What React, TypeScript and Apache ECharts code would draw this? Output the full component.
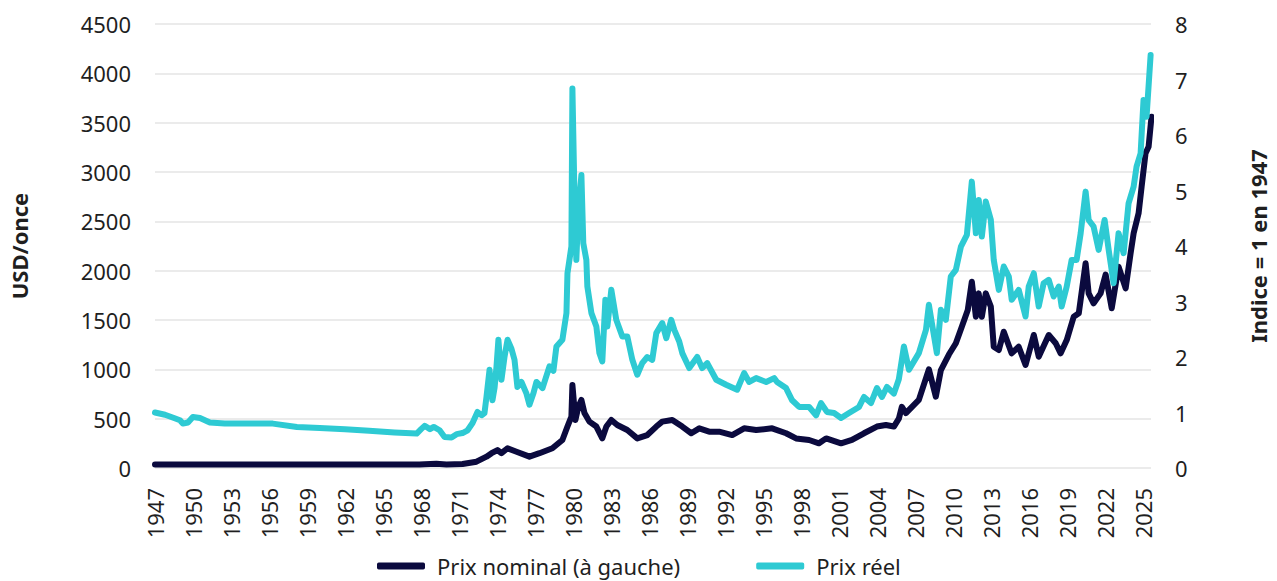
import React, { useEffect, useRef } from "react";
import * as echarts from "echarts";

// Nominal gold price (USD/once), left axis
const nominalYears = [
  1947.0, 1950.0, 1955.0, 1960.0, 1965.0, 1967.88, 1968.28, 1969.2, 1970.0, 1971.27,
  1972.37, 1973.16, 1973.56, 1974.03, 1974.34, 1974.82, 1975.53, 1976.55, 1977.34, 1978.36,
  1979.15, 1979.55, 1979.86, 1979.94, 1980.18, 1980.41, 1980.65, 1980.89, 1981.28, 1981.83,
  1982.3, 1982.62, 1983.01, 1983.48, 1984.27, 1985.06, 1985.85, 1986.56, 1987.03, 1987.82,
  1988.61, 1989.32, 1989.95, 1990.73, 1991.52, 1992.55, 1993.49, 1994.44, 1995.7, 1996.8,
  1997.59, 1998.62, 1999.4, 1999.96, 2001.14, 2002.0, 2002.95, 2003.97, 2004.68, 2005.31,
  2005.7, 2005.94, 2006.26, 2007.28, 2008.07, 2008.62, 2009.02, 2009.65, 2010.2, 2010.67,
  2011.14, 2011.46, 2011.78, 2012.0, 2012.25, 2012.56, 2012.96, 2013.19, 2013.59, 2013.98,
  2014.6, 2015.16, 2015.7, 2016.35, 2016.74, 2017.53, 2018.08, 2018.47, 2018.95, 2019.5,
  2019.9, 2020.44, 2020.68, 2021.07, 2021.62, 2022.02, 2022.5, 2023.04, 2023.6, 2023.99,
  2024.23, 2024.62, 2024.86, 2025.17, 2025.41, 2025.64,
];
const nominalValues = [
  35, 35, 35, 35, 35, 35, 39, 42, 35, 40,
  64, 115, 150, 182, 150, 200, 165, 115, 150, 200,
  284, 420, 520, 841, 487, 621, 690, 557, 470, 420,
  300, 420, 487, 436, 385, 300, 334, 420, 470, 487,
  420, 352, 402, 368, 368, 334, 402, 385, 402, 352,
  300, 284, 250, 300, 250, 284, 352, 420, 436, 420,
  500, 620, 557, 690, 1000, 723, 993, 1150, 1264, 1432,
  1601, 1888, 1533, 1770, 1533, 1770, 1635, 1229, 1196, 1381,
  1162, 1229, 1044, 1348, 1128, 1348, 1264, 1162, 1297, 1533,
  1568, 2075, 1770, 1669, 1770, 1960, 1619, 2040, 1821, 2176,
  2379, 2581, 2851, 3190, 3256, 3560,
];

// Real gold price (index = 1 in 1947), right axis
const realYears = [
  1947.0, 1947.79, 1948.5, 1948.97, 1949.2, 1949.6, 1949.99, 1950.55, 1951.33, 1952.5,
  1954.1, 1956.3, 1958.2, 1960.0, 1962.0, 1963.9, 1965.9, 1967.65, 1968.0, 1968.28,
  1968.7, 1969.0, 1969.46, 1969.85, 1970.4, 1970.8, 1971.27, 1971.67, 1972.06, 1972.45,
  1972.77, 1973.0, 1973.16, 1973.4, 1973.63, 1973.8, 1973.95, 1974.1, 1974.34, 1974.58,
  1974.82, 1975.13, 1975.37, 1975.6, 1975.92, 1976.3, 1976.55, 1976.87, 1977.1, 1977.58,
  1978.13, 1978.44, 1978.68, 1979.15, 1979.47, 1979.55, 1979.86, 1979.94, 1980.1, 1980.25,
  1980.41, 1980.65, 1980.8, 1981.04, 1981.12, 1981.44, 1981.83, 1982.07, 1982.3, 1982.54,
  1982.7, 1983.01, 1983.4, 1983.88, 1984.27, 1984.67, 1985.06, 1985.45, 1985.85, 1986.24,
  1986.56, 1987.03, 1987.35, 1987.74, 1987.98, 1988.37, 1988.61, 1989.16, 1989.79, 1990.18,
  1990.58, 1991.29, 1992.07, 1992.94, 1993.49, 1993.89, 1994.44, 1995.23, 1995.86, 1996.09,
  1996.8, 1997.28, 1997.83, 1998.62, 1999.17, 1999.56, 2000.03, 2000.59, 2001.14, 2001.77,
  2002.56, 2002.95, 2003.5, 2003.97, 2004.37, 2004.76, 2005.31, 2005.7, 2006.1, 2006.5,
  2007.28, 2007.84, 2008.07, 2008.31, 2008.7, 2009.02, 2009.41, 2009.8, 2010.2, 2010.6,
  2011.07, 2011.46, 2011.78, 2012.01, 2012.25, 2012.56, 2012.96, 2013.19, 2013.59, 2013.98,
  2014.38, 2014.61, 2015.16, 2015.7, 2015.95, 2016.35, 2016.74, 2017.13, 2017.53, 2017.92,
  2018.32, 2018.55, 2018.95, 2019.34, 2019.73, 2020.05, 2020.44, 2020.68, 2021.07, 2021.47,
  2021.94, 2022.26, 2022.65, 2023.04, 2023.44, 2023.83, 2024.23, 2024.46, 2024.78, 2025.01,
  2025.25, 2025.57,
];
const realValues = [
  1.0, 0.96, 0.9, 0.86, 0.8, 0.82, 0.92, 0.9, 0.82, 0.8,
  0.8, 0.8, 0.74, 0.72, 0.7, 0.67, 0.64, 0.62, 0.7, 0.76,
  0.7, 0.74, 0.68, 0.56, 0.55, 0.61, 0.63, 0.68, 0.81, 1.01,
  0.95, 0.99, 1.28, 1.77, 1.22, 1.45, 1.83, 2.31, 1.59, 2.0,
  2.31, 2.15, 1.95, 1.46, 1.55, 1.35, 1.14, 1.35, 1.55, 1.44,
  1.83, 1.75, 2.19, 2.31, 2.79, 3.51, 3.99, 6.84, 4.95, 3.75,
  4.65, 5.28, 4.05, 3.75, 3.27, 2.79, 2.55, 2.07, 1.92, 3.03,
  2.55, 3.21, 2.67, 2.37, 2.37, 1.95, 1.68, 1.89, 2.0, 1.95,
  2.43, 2.61, 2.34, 2.67, 2.49, 2.28, 2.07, 1.8, 2.0, 1.8,
  1.89, 1.59, 1.5, 1.41, 1.71, 1.55, 1.62, 1.55, 1.62, 1.55,
  1.44, 1.22, 1.1, 1.1, 0.95, 1.17, 1.01, 0.99, 0.9, 0.99,
  1.1, 1.28, 1.17, 1.44, 1.28, 1.46, 1.34, 1.6, 2.19, 1.77,
  2.07, 2.49, 2.94, 2.61, 2.07, 2.85, 2.67, 3.45, 3.57, 3.99,
  4.2, 5.16, 4.23, 4.83, 4.17, 4.8, 4.47, 3.75, 3.21, 3.63,
  3.45, 3.03, 3.21, 2.73, 3.27, 3.51, 2.91, 3.33, 3.39, 3.09,
  3.27, 2.91, 3.27, 3.75, 3.75, 4.23, 4.98, 4.47, 4.35, 3.93,
  4.47, 3.93, 3.33, 4.23, 3.87, 4.77, 5.07, 5.43, 5.67, 6.63,
  6.33, 7.44,
];

const legendNames = ["Prix nominal (à gauche)", "Prix réel"];
const leftAxisName = "USD/once";
const rightAxisName = "Indice = 1 en 1947";
const xStart = 1947;
const xEnd = 2025.6;
const xStep = 3;

const NAVY = "#0b0a3e";
const CYAN = "#2ecad3";
const FONT = "Noto Sans";

export default function App() {
  const ref = useRef<HTMLDivElement>(null);

  useEffect(() => {
    if (!ref.current) return;
    const chart = echarts.init(ref.current, undefined, { renderer: "svg" });
    const labelStyle = { fontFamily: FONT, fontSize: 22, color: "#1f1f1f" };
    chart.setOption({
      animation: false,
      backgroundColor: "#ffffff",
      textStyle: { fontFamily: FONT },
      grid: { left: 155, right: 125, top: 24, bottom: 113, containLabel: false },
      legend: {
        data: legendNames,
        bottom: -1,
        left: 372,
        itemGap: 76,
        itemWidth: 48,
        itemHeight: 7,
        icon: "roundRect",
        textStyle: { ...labelStyle, padding: [0, 0, 0, 7] },
      },
      xAxis: {
        type: "value",
        min: xStart,
        max: xEnd,
        interval: xStep,
        axisLine: { show: false },
        axisTick: { show: false },
        splitLine: { show: false },
        axisLabel: {
          ...labelStyle,
          rotate: 90,
          margin: 20,
          showMaxLabel: false,
          formatter: (v: number) => {
            const r = Math.round(v);
            return Math.abs(v - r) < 1e-6 && (r - xStart) % xStep === 0 ? String(r) : "";
          },
        },
      },
      yAxis: [
        {
          type: "value",
          min: 0,
          max: 4500,
          interval: 500,
          name: leftAxisName,
          nameLocation: "middle",
          nameRotate: 90,
          nameGap: 125,
          nameTextStyle: { fontFamily: FONT, fontSize: 22, fontWeight: "bold", color: "#1f1f1f" },
          axisLine: { show: false },
          axisTick: { show: false },
          axisLabel: { ...labelStyle, margin: 24, formatter: (v: number) => String(v) },
          splitLine: { show: true, lineStyle: { color: "#e4e4e4", width: 1.5 } },
        },
        {
          type: "value",
          min: 0,
          max: 8,
          interval: 1,
          position: "right",
          name: rightAxisName,
          nameLocation: "middle",
          nameRotate: 90,
          nameGap: 96,
          nameTextStyle: { fontFamily: FONT, fontSize: 22, fontWeight: "bold", color: "#1f1f1f" },
          axisLine: { show: false },
          axisTick: { show: false },
          axisLabel: { ...labelStyle, margin: 24, formatter: (v: number) => String(v) },
          splitLine: { show: false },
        },
      ],
      series: [
        {
          name: legendNames[0],
          type: "line",
          yAxisIndex: 0,
          symbol: "none",
          data: nominalYears.map((y, i) => [y, nominalValues[i]]),
          lineStyle: { color: NAVY, width: 6, cap: "round", join: "round" },
          itemStyle: { color: NAVY },
        },
        {
          name: legendNames[1],
          type: "line",
          yAxisIndex: 1,
          symbol: "none",
          data: realYears.map((y, i) => [y, realValues[i]]),
          lineStyle: { color: CYAN, width: 6, cap: "round", join: "round" },
          itemStyle: { color: CYAN },
        },
      ],
    });
    return () => chart.dispose();
  }, []);

  return (
    <div
      ref={ref}
      style={{ position: "absolute", left: 0, top: 0, width: 1277, height: 581 }}
    />
  );
}
